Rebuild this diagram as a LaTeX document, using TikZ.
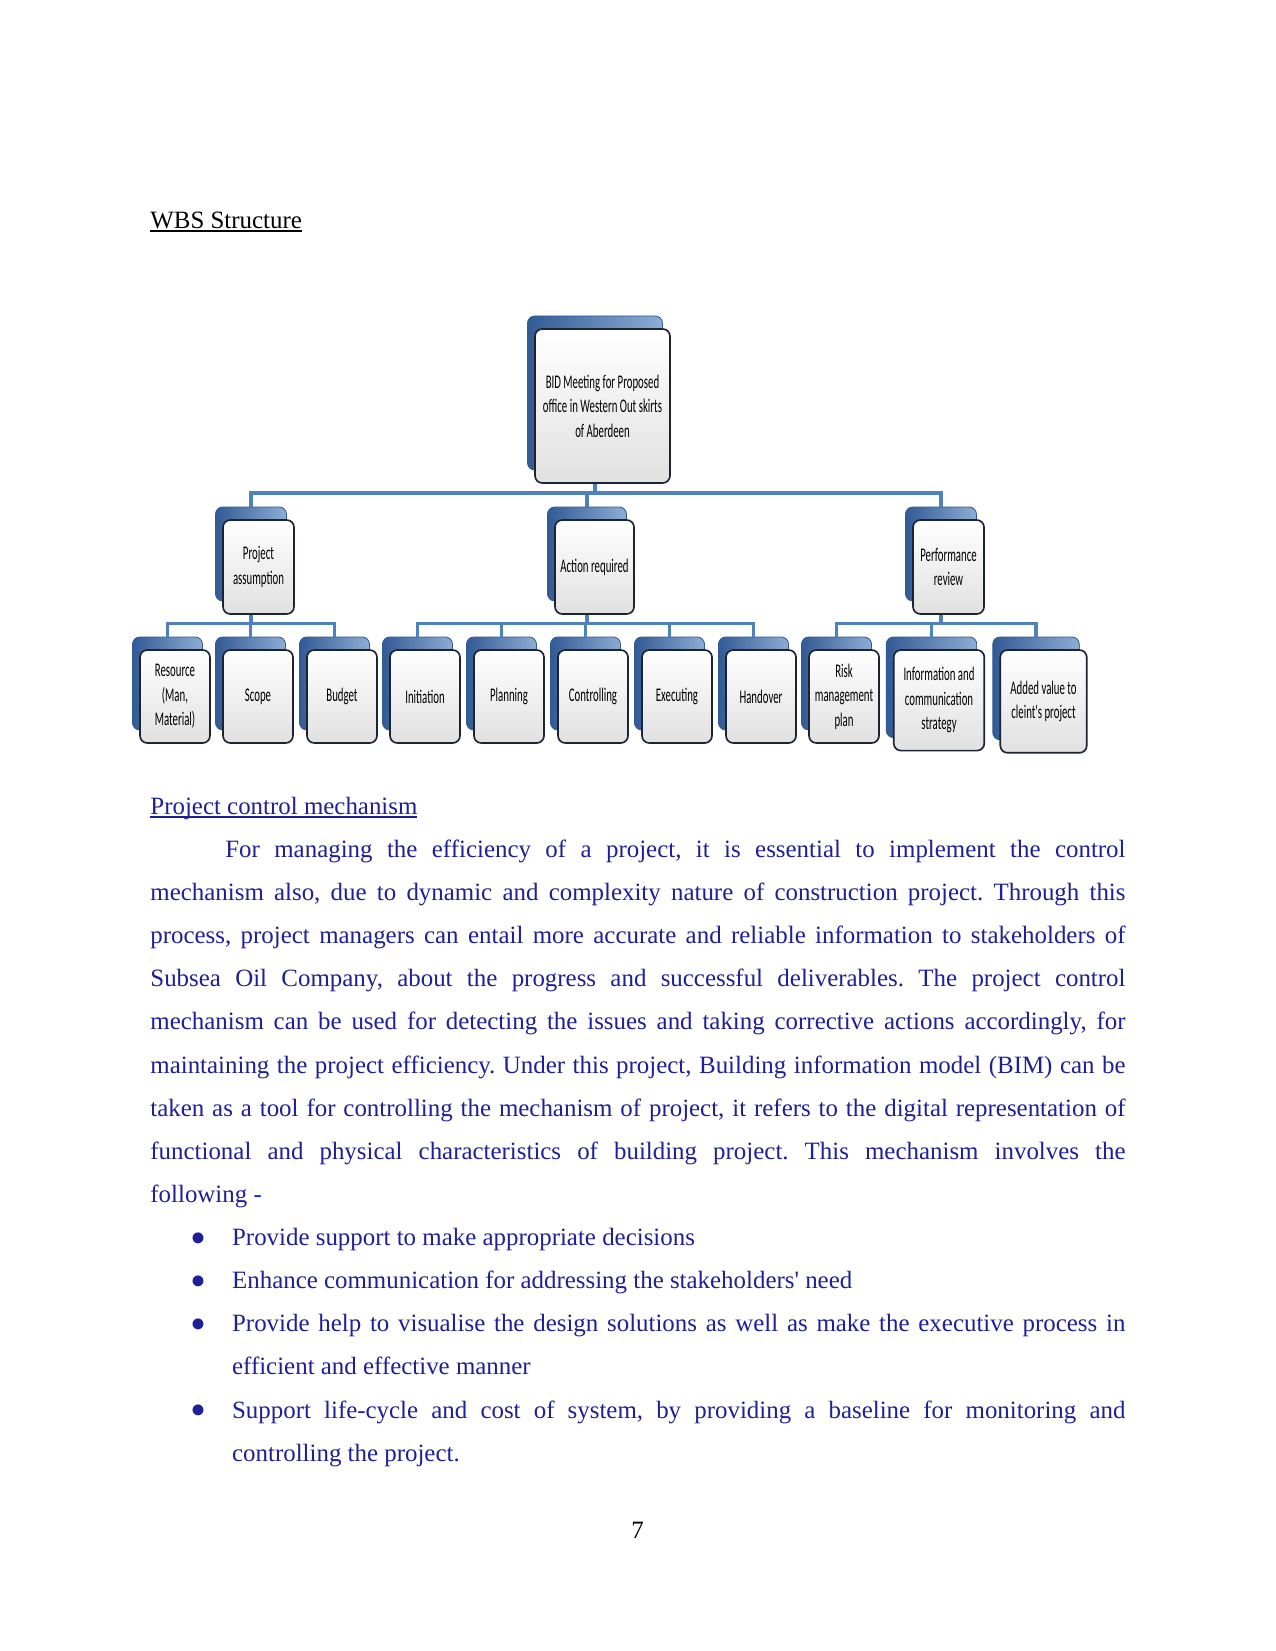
\documentclass[tikz,border=0pt]{standalone}
\usepackage{fontspec}
\setmainfont{Liberation Serif}
\newfontfamily\boxfont[FakeStretch=0.56]{Carlito}
\usetikzlibrary{positioning,calc}
\definecolor{wbsblue}{RGB}{79,129,189}
\definecolor{wbsdark}{RGB}{50,90,148}
\definecolor{wbsedge}{RGB}{28,36,52}
\definecolor{bodyblue}{RGB}{31,31,150}
\frenchspacing
\newcommand\pxu{0.4817pt}
\newcommand\undl[1]{\setbox0=\hbox{#1}\rlap{\rule[-1.6pt]{\wd0}{0.6pt}}\box0}
\newcommand\bul{\leavevmode\llap{{\fontsize{22pt}{0pt}\selectfont\raisebox{-3.7pt}{\textbullet}}\hspace{12.2pt}}}
\tikzset{
  backbox/.style={draw=wbsdark, rounded corners=3.5pt, left color=wbsdark,
                  right color=wbsblue!65, inner sep=0pt},
  frontbox/.style={draw=wbsedge, line width=0.8pt, rounded corners=3.5pt,
                   top color=white, bottom color=black!12, inner sep=1pt, align=center,
                   font=\boxfont\fontsize{9.3pt}{11.8pt}\selectfont},
  link/.style={draw=wbsblue, line width=1.5pt},
  bodytext/.style={anchor=base west, inner sep=0pt, text=bodyblue, align=justify,
                   font=\fontsize{12pt}{20.78pt}\selectfont},
  head/.style={anchor=base west, inner sep=0pt, font=\fontsize{12pt}{14pt}\selectfont}
}
% name, x, y, width, height, text
\newcommand\wbsbox[6]{%
  \node[backbox, minimum width=#4*\pxu, minimum height=#5*\pxu] (#1b) at (#2-7.5,#3-13) {};
  \node[frontbox, minimum width=#4*\pxu, minimum height=#5*\pxu] (#1) at (#2,#3) {#6};}

\begin{document}
\begin{tikzpicture}[x=\pxu, y=-\pxu]
    \fill[white] (0,0) rectangle (1275,1651);

    \node[head] (wbshead) at (150,228.3) {\undl{WBS Structure}};

    \wbsbox{root}{602.5}{406}{135}{154}{BID Meeting for Proposed\\office in Western Out skirts\\of Aberdeen}

    \wbsbox{pa}{258.5}{567}{71}{94}{Project\\assumption}
    \wbsbox{ar}{594.5}{567}{79}{94}{Action required}
    \wbsbox{pr}{948.5}{567}{71}{94}{Performance\\review}

    \wbsbox{res}{175}{696.5}{70}{93}{Resource\\(Man,\\Material)}
    \wbsbox{sco}{258}{696.5}{70}{93}{Scope}
    \wbsbox{bud}{342}{696.5}{70}{93}{Budget}
    \wbsbox{ini}{425}{696.5}{70}{93}{Initiation}
    \wbsbox{pla}{509}{696.5}{70}{93}{Planning}
    \wbsbox{con}{593}{696.5}{70}{93}{Controlling}
    \wbsbox{exe}{677}{696.5}{70}{93}{Executing}
    \wbsbox{han}{761}{696.5}{70}{93}{Handover}
    \wbsbox{ris}{844}{696.5}{70}{93}{Risk\\management\\plan}
    \wbsbox{inf}{939}{700.3}{90.6}{100.6}{Information and\\communication\\strategy}
    \wbsbox{add}{1043.5}{701.4}{86.5}{102.8}{Added value to\\cleint's project}

    \coordinate (bus1) at (0,493);
    \coordinate (bus2) at (0,623.5);

    \draw[link] (rootb |- root.south) -- (rootb |- bus1);
    \draw[link] (pab.north) |- (prb |- bus1) -- (prb.north);
    \draw[link] (arb |- bus1) -- (arb.north);

    \draw[link] (pab |- pa.south) -- (pab |- bus2);
    \draw[link] (resb.north) |- (budb |- bus2) -- (budb.north);
    \draw[link] (scob |- bus2) -- (scob.north);

    \draw[link] (arb |- ar.south) -- (arb |- bus2);
    \draw[link] (inib.north) |- (hanb |- bus2) -- (hanb.north);
    \draw[link] (plab |- bus2) -- (plab.north);
    \draw[link] (conb |- bus2) -- (conb.north);
    \draw[link] (exeb |- bus2) -- (exeb.north);

    \draw[link] (prb |- pr.south) -- (prb |- bus2);
    \draw[link] (risb.north) |- (addb |- bus2) -- (addb.north);
    \draw[link] (infb |- bus2) -- (infb.north);

    \node[head, text=bodyblue] (pcmhead) at (150,814.3) {\undl{Project control mechanism}};

    \node[bodytext, text width=469.7pt] (para) at (150,857.3) {\sloppy
      \hspace*{36.1pt}For managing the efficiency of a project, it is essential to implement the control\linebreak
      mechanism also, due to dynamic and complexity nature of construction project. Through this\linebreak
      process, project managers can entail more accurate and reliable information to stakeholders of\linebreak
      Subsea Oil Company, about the progress and successful deliverables. The project control\linebreak
      mechanism can be used for detecting the issues and taking corrective actions accordingly, for\linebreak
      maintaining the project efficiency. Under this project, Building information model (BIM) can be\linebreak
      taken as a tool for controlling the mechanism of project, it refers to the digital representation of\linebreak
      functional and physical characteristics of building project. This mechanism involves the\linebreak
      following -};

    \node[bodytext, text width=430.3pt] (bullets) at (231.7,1245.5) {\sloppy
      \bul Provide support to make appropriate decisions\par
      \bul Enhance communication for addressing the stakeholders\textquotesingle{} need\par
      \bul Provide help to visualise the design solutions as well as make the executive process in\linebreak
      efficient and effective manner\par
      \bul Support life-cycle and cost of system, by providing a baseline for monitoring and\linebreak
      controlling the project.};

    \node[anchor=base, inner sep=0pt, font=\fontsize{12pt}{14pt}\selectfont] (pagenum) at (637.5,1538) {7};
  \end{tikzpicture}
\end{document}
